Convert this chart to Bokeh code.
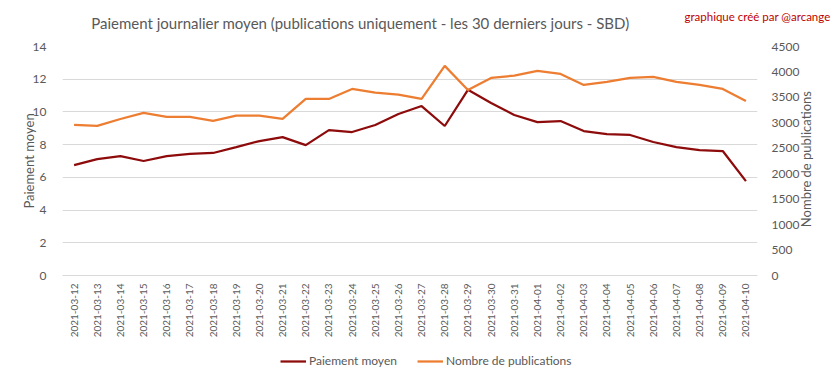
import math
from bokeh.plotting import figure
from bokeh.layouts import column
from bokeh.models import (FactorRange, Range1d, LinearAxis, Legend, LegendItem,
                          Label, SingleIntervalTicker, FixedTicker, ColumnDataSource)
from bokeh.embed import file_html
from bokeh.resources import INLINE

dates = ["2021-03-12", "2021-03-13", "2021-03-14", "2021-03-15", "2021-03-16",
         "2021-03-17", "2021-03-18", "2021-03-19", "2021-03-20", "2021-03-21",
         "2021-03-22", "2021-03-23", "2021-03-24", "2021-03-25", "2021-03-26",
         "2021-03-27", "2021-03-28", "2021-03-29", "2021-03-30", "2021-03-31",
         "2021-04-01", "2021-04-02", "2021-04-03", "2021-04-04", "2021-04-05",
         "2021-04-06", "2021-04-07", "2021-04-08", "2021-04-09", "2021-04-10"]

paiement_moyen = [6.75, 7.12, 7.30, 7.00, 7.30, 7.43, 7.49, 7.85, 8.22, 8.46,
                  7.97, 8.89, 8.77, 9.20, 9.87, 10.36, 9.14, 11.35, 10.54, 9.81,
                  9.38, 9.44, 8.83, 8.65, 8.59, 8.16, 7.85, 7.67, 7.61, 5.77]

nombre_publications = [2960, 2940, 3076, 3194, 3115, 3115, 3037, 3141, 3141, 3076,
                       3470, 3470, 3666, 3594, 3555, 3470, 4119, 3647, 3883, 3928,
                       4020, 3961, 3745, 3804, 3883, 3902, 3804, 3745, 3666, 3430]

TITLE = "Paiement journalier moyen (publications uniquement  - les 30 derniers jours - SBD)"
CREDIT = "graphique créé par @arcange"
LEFT_TITLE = "Paiement moyen"
RIGHT_TITLE = "Nombre de publications"
RIGHT_TITLE_AT = 950   # where the rotated right-axis title starts (axis units)
CREDIT_AT = 20         # header row of the credit (header units, from bottom)

FONT = "Lato"
GREY = "#595959"
RED = "#8E0B0B"
ORANGE = "#ED7D31"

W = 833
HEAD_H = 36
LEG_H = 38
FRAME_L, FRAME_R = 62, 757


def set_standoff(obj, attr, val, fallback):
    try:
        setattr(obj, attr, val)
    except ValueError:
        setattr(obj, attr, fallback)


src = ColumnDataSource(dict(d=dates, pm=paiement_moyen, nb=nombre_publications))

# ---------- header (title + credit) ----------
head = figure(width=W, height=HEAD_H, output_backend="svg", toolbar_location=None,
              x_range=Range1d(FRAME_L, FRAME_R), y_range=Range1d(0, HEAD_H),
              x_axis_location=None, y_axis_location=None, min_border=0)
head.outline_line_color = None
head.grid.visible = False
head.add_layout(Label(x=363.5, y=HEAD_H - 22, text=TITLE, text_align="center",
                      text_baseline="middle", text_font=FONT, text_font_size="15px",
                      text_color=GREY))
cax = LinearAxis(ticker=FixedTicker(ticks=[CREDIT_AT]),
                 major_label_overrides={CREDIT_AT: CREDIT})
cax.major_label_text_font = FONT
cax.major_label_text_font_size = "11.5px"
cax.major_label_text_color = "#C00000"
cax.axis_line_color = None
cax.major_tick_line_color = None
cax.major_tick_out = 0
cax.major_tick_in = 0
cax.minor_tick_line_color = None
set_standoff(cax, "major_label_standoff", -(FRAME_R - 688), 0)
head.add_layout(cax, "right")

# ---------- main chart ----------
fig = figure(frame_width=695, frame_height=229, output_backend="svg", toolbar_location=None,
             x_range=FactorRange(*dates, range_padding=0),
             y_range=Range1d(0, 14),
             min_border_left=62, min_border_right=76, min_border_top=10, min_border_bottom=62)
fig.extra_y_ranges = {"pub": Range1d(0, 4500)}
fig.outline_line_color = None
fig.background_fill_color = "white"
fig.border_fill_color = "white"

ya = fig.yaxis[0]
ya.ticker = SingleIntervalTicker(interval=2)
ya.axis_label = LEFT_TITLE
ya.axis_label_text_font = FONT
ya.axis_label_text_font_style = "normal"
ya.axis_label_text_font_size = "13px"
ya.axis_label_text_color = GREY
set_standoff(ya, "axis_label_standoff", -7, 0)
ya.major_label_text_font = FONT
ya.major_label_text_font_size = "12px"
ya.major_label_text_color = GREY
ya.major_label_standoff = 12
ya.axis_line_color = None
ya.major_tick_line_color = None
ya.major_tick_out = 0
ya.major_tick_in = 0
ya.minor_tick_line_color = None

ra = LinearAxis(y_range_name="pub", ticker=SingleIntervalTicker(interval=500))
ra.major_label_text_font = FONT
ra.major_label_text_font_size = "12px"
ra.major_label_text_color = GREY
ra.major_label_standoff = 10
ra.axis_line_color = None
ra.major_tick_line_color = None
ra.major_tick_out = 0
ra.major_tick_in = 0
ra.minor_tick_line_color = None
fig.add_layout(ra, "right")

ra2 = LinearAxis(y_range_name="pub", ticker=FixedTicker(ticks=[RIGHT_TITLE_AT]),
                 major_label_overrides={RIGHT_TITLE_AT: RIGHT_TITLE})
ra2.major_label_orientation = math.pi / 2
ra2.major_label_text_font = FONT
ra2.major_label_text_font_size = "13px"
ra2.major_label_text_color = GREY
ra2.major_label_standoff = 4
ra2.axis_line_color = None
ra2.major_tick_line_color = None
ra2.major_tick_out = 0
ra2.major_tick_in = 0
ra2.minor_tick_line_color = None
fig.add_layout(ra2, "right")

xa = fig.xaxis[0]
xa.major_label_orientation = math.pi / 2
xa.major_label_text_font = FONT
xa.major_label_text_font_size = "10px"
xa.major_label_text_color = GREY
xa.major_label_standoff = 8
xa.axis_line_color = "#d9d9d9"
xa.major_tick_line_color = None
xa.major_tick_out = 0
xa.major_tick_in = 0
xa.minor_tick_line_color = None

fig.xgrid.grid_line_color = None
fig.ygrid.grid_line_color = "#d9d9d9"
fig.ygrid.grid_line_width = 1

fig.line("d", "pm", source=src, line_color=RED, line_width=2.25)
fig.line("d", "nb", source=src, y_range_name="pub", line_color=ORANGE, line_width=2.25)

# ---------- legend strip (keys reuse the same series, kept out of view) ----------
leg = figure(width=W, height=LEG_H, output_backend="svg", toolbar_location=None,
             x_range=FactorRange(*dates, range_padding=0), y_range=Range1d(-2, -1),
             x_axis_location=None, y_axis_location=None, min_border=0)
leg.outline_line_color = None
leg.grid.visible = False
k1 = leg.line("d", "pm", source=src, line_color=RED, line_width=2.25)
k2 = leg.line("d", "nb", source=src, line_color=ORANGE, line_width=2.25)
legend = Legend(items=[LegendItem(label="Paiement moyen", renderers=[k1]),
                       LegendItem(label="Nombre de publications", renderers=[k2])],
                orientation="horizontal", location=(218, 10),
                border_line_color=None, background_fill_alpha=0,
                label_text_font=FONT, label_text_font_size="12px",
                label_text_color=GREY, glyph_width=26, glyph_height=14,
                label_height=14, spacing=20, label_standoff=3, margin=0, padding=0)
leg.add_layout(legend, "center")

p = column(head, fig, leg, spacing=0)

open("out.html", "w").write(file_html(p, INLINE))
